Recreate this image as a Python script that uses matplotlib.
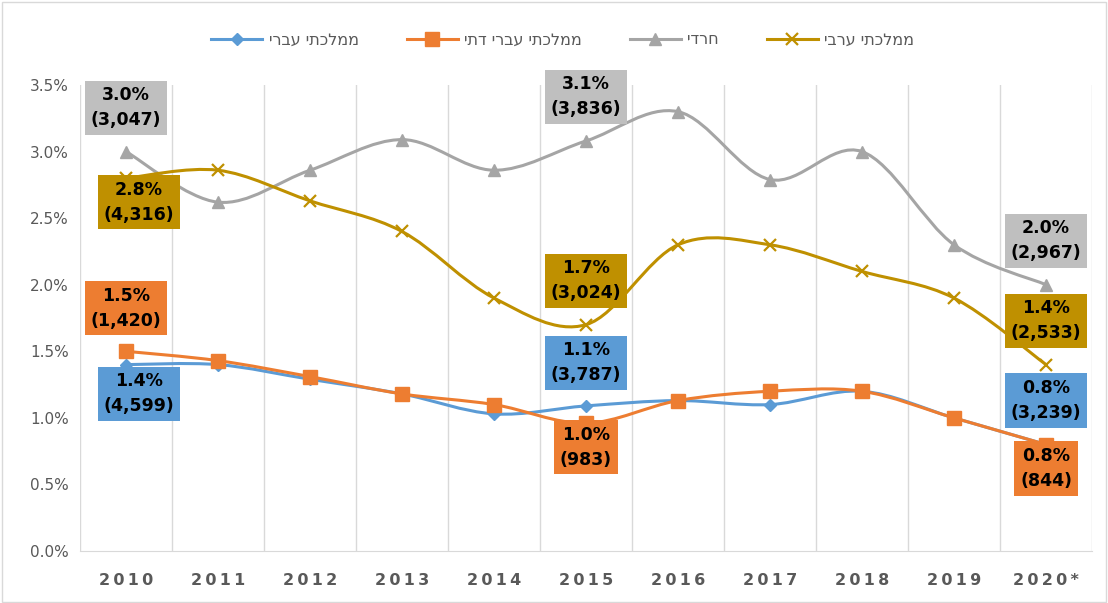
import matplotlib.pyplot as plt
from matplotlib.path import Path
from matplotlib.patches import PathPatch, Rectangle
from matplotlib.lines import Line2D

plt.rcParams["font.family"] = ["DejaVu Sans"]

years = ["2010", "2011", "2012", "2013", "2014", "2015", "2016", "2017", "2018", "2019", "2020*"]

# ממלכתי עברי / ממלכתי עברי דתי / חרדי / ממלכתי ערבי  (percent)
mamlachti = [1.40, 1.40, 1.29, 1.18, 1.03, 1.09, 1.13, 1.10, 1.20, 1.00, 0.80]
mamlachti_dati = [1.50, 1.43, 1.31, 1.18, 1.10, 0.96, 1.13, 1.20, 1.20, 1.00, 0.80]
haredi = [3.00, 2.62, 2.86, 3.09, 2.86, 3.08, 3.30, 2.79, 3.00, 2.30, 2.00]
aravi = [2.80, 2.86, 2.63, 2.40, 1.90, 1.70, 2.30, 2.30, 2.10, 1.90, 1.40]

# counts shown in the labels for 2010, 2015, 2020
label_idx = [0, 5, 10]
cnt_mamlachti = [4599, 3787, 3239]
cnt_dati = [1420, 983, 844]
cnt_haredi = [3047, 3836, 2967]
cnt_aravi = [4316, 3024, 2533]

names = ["ממלכתי עברי", "ממלכתי עברי דתי", "חרדי", "ממלכתי ערבי"]
colors = ["#5B9BD5", "#ED7D31", "#A5A5A5", "#BF9000"]
box_colors = ["#5B9BD5", "#ED7D31", "#BFBFBF", "#BF9000"]
markers = ["D", "s", "^", "x"]
msizes = [6.5, 10, 9, 9]


def heb(s):
    # matplotlib has no bidi support, so flip the Hebrew text
    return s[::-1]


def smooth_path(xs, ys):
    # Excel-like smoothed line: Catmull-Rom as cubic bezier segments
    verts = [(xs[0], ys[0])]
    codes = [Path.MOVETO]
    n = len(xs)
    for i in range(n - 1):
        x0, y0 = (xs[i - 1], ys[i - 1]) if i > 0 else (xs[i], ys[i])
        x1, y1 = xs[i], ys[i]
        x2, y2 = xs[i + 1], ys[i + 1]
        x3, y3 = (xs[i + 2], ys[i + 2]) if i + 2 < n else (x2, y2)
        c1 = (x1 + (x2 - x0) / 6, y1 + (y2 - y0) / 6)
        c2 = (x2 - (x3 - x1) / 6, y2 - (y3 - y1) / 6)
        verts += [c1, c2, (x2, y2)]
        codes += [Path.CURVE4] * 3
    return Path(verts, codes)


fig = plt.figure(figsize=(11.08, 6.03), dpi=100)
ax = fig.add_axes([0.0722, 0.0862, 0.9134, 0.7728])
fig.patches.append(Rectangle((0.002, 0.002), 0.996, 0.995, transform=fig.transFigure,
                             fill=False, edgecolor="#D9D9D9", linewidth=1))

x = list(range(len(years)))
series = [mamlachti, mamlachti_dati, haredi, aravi]
counts = [cnt_mamlachti, cnt_dati, cnt_haredi, cnt_aravi]

handles = []
for k, vals in enumerate(series):
    ax.add_patch(PathPatch(smooth_path(x, vals), facecolor="none", edgecolor=colors[k],
                           linewidth=2.2, zorder=2 + k))
    mew = 1.6 if markers[k] == "x" else 1
    ax.plot(x, vals, linestyle="none", marker=markers[k], markersize=msizes[k],
            color=colors[k], markeredgewidth=mew, zorder=2 + k)
    handles.append(Line2D([], [], color=colors[k], linewidth=2.2, marker=markers[k],
                          markersize=msizes[k], markeredgewidth=mew))

# label offsets in pixels (dx, dy) for 2010, 2015, 2020
offsets = [
    [(13, -29), (0, 43), (0, 44)],    # blue
    [(0, 43), (0, -24), (0, -24)],    # orange
    [(0, 44), (0, 44), (0, 44)],      # gray
    [(13, -24), (0, 44), (0, 44)],    # gold
]
for k in range(4):
    for j, i in enumerate(label_idx):
        txt = "%.1f%%\n(%s)" % (series[k][i], format(counts[k][j], ","))
        ax.annotate(txt, (x[i], series[k][i]), xytext=offsets[k][j], textcoords="offset pixels",
                    ha="center", va="center", fontsize=12.5, fontweight="bold", color="black",
                    linespacing=1.5, zorder=10,
                    bbox=dict(boxstyle="square,pad=0.32", facecolor=box_colors[k], edgecolor="none"))

ax.set_xlim(-0.5, len(years) - 0.5)
ax.set_ylim(0, 3.5)
ax.set_yticks([0, 0.5, 1.0, 1.5, 2.0, 2.5, 3.0, 3.5])
ax.set_yticklabels(["%.1f%%" % v for v in [0, 0.5, 1.0, 1.5, 2.0, 2.5, 3.0, 3.5]],
                   fontsize=11, color="#595959")
ax.set_xticks(x)
ax.set_xticklabels(["\u2009".join(y) for y in years], fontsize=11.5, fontweight="bold",
                   color="#595959")
ax.tick_params(axis="both", length=0)
ax.tick_params(axis="x", pad=16)
ax.tick_params(axis="y", pad=8)

for b in range(len(years) + 1):
    ax.axvline(b - 0.5, color="#D9D9D9", linewidth=1, zorder=1)
for side in ["top", "right", "left"]:
    ax.spines[side].set_visible(False)
ax.spines["bottom"].set_color("#D9D9D9")

leg = fig.legend(handles, [heb(n) for n in names], loc="center", bbox_to_anchor=(0.508, 0.934),
                 ncol=4, frameon=False, fontsize=11.5, handlelength=3.2, columnspacing=3.0,
                 handletextpad=0.4)
for t in leg.get_texts():
    t.set_color("#595959")

fig.savefig("out.png", dpi=100)
